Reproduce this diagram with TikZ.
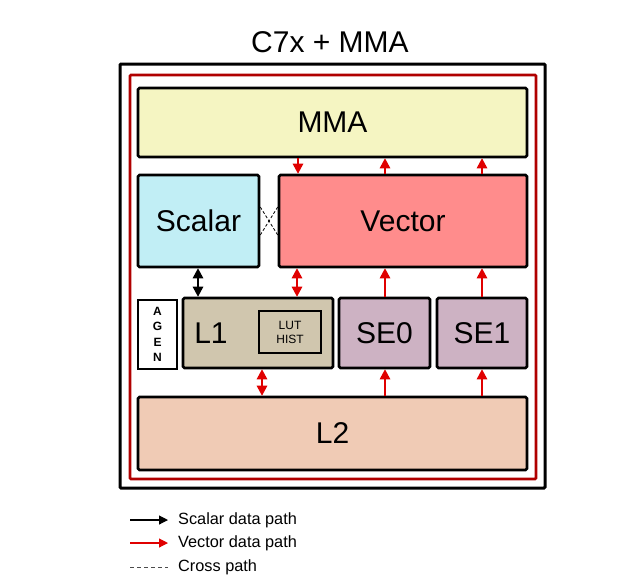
\documentclass[tikz,border=0pt]{standalone}
\usepackage{fontspec}
\setmainfont{Liberation Sans}
\usetikzlibrary{arrows.meta,calc}
\definecolor{cmma}{HTML}{F5F5C2}
\definecolor{cscal}{HTML}{C1EEF5}
\definecolor{cvec}{HTML}{FF8C8C}
\definecolor{cl1}{HTML}{D0C6AE}
\definecolor{cse}{HTML}{CDB2C3}
\definecolor{cl2}{HTML}{F0CBB5}
\definecolor{dred}{HTML}{B00000}
\definecolor{ared}{HTML}{E00000}
\tikzset{
  blk/.style={draw=black,line width=2.6pt,rounded corners=1.5pt,inner sep=0pt,font=\fontsize{30}{32}\selectfont},
  varr/.style={draw=ared,line width=1.3pt,-{Triangle[length=10pt,width=10.5pt]}},
  varrb/.style={draw=ared,line width=1.3pt,{Triangle[length=10pt,width=10.5pt]}-{Triangle[length=10pt,width=10.5pt]}},
  sarrb/.style={draw=black,line width=1.3pt,{Triangle[length=10pt,width=10.5pt]}-{Triangle[length=10pt,width=10.5pt]}},
  sarr/.style={draw=black,line width=1.3pt,-{Triangle[length=9pt,width=9pt]}},
  xpath/.style={draw=black,line width=0.8pt,dash pattern=on 3pt off 2pt},
  legtxt/.style={anchor=west,inner sep=0pt,font=\fontsize{16.3}{18}\selectfont}
}
\begin{document}
\begin{tikzpicture}[x=1pt,y=-1pt]
\useasboundingbox (0,0) rectangle (623,582);
\node (title) at (330,42) {\fontsize{30}{32}\selectfont C7x + MMA};
% frames
\draw[line width=3pt,rounded corners=1pt] (120,64) rectangle (545,488);
\draw[dred,line width=2.6pt,rounded corners=1pt] (130,75) rectangle (536,479);
% blocks
\node[blk,fill=cmma,minimum width=389pt,minimum height=69pt] (mma) at (332.5,122.5) {MMA};
\node[blk,fill=cscal,minimum width=121pt,minimum height=92pt] (scalar) at (198.5,221) {Scalar};
\node[blk,fill=cvec,minimum width=248pt,minimum height=92pt] (vector) at (403,221) {Vector};
\node[draw=black,line width=1.2pt,fill=white,minimum width=39pt,minimum height=69pt,inner sep=0pt,align=center,font=\fontsize{12}{15.5}\selectfont\bfseries] (agen) at (157.5,334.5) {A\\G\\E\\N};
\node[blk,fill=cl1,minimum width=150pt,minimum height=70pt] (l1) at (258,333) {};
\node[font=\fontsize{30}{32}\selectfont] (l1t) at (211,333) {L1};
\node[draw=black,line width=1.3pt,minimum width=62pt,minimum height=42pt,inner sep=0pt,align=center,font=\fontsize{12}{14}\selectfont] (lut) at (290,332) {LUT\\HIST};
\node[blk,fill=cse,minimum width=91pt,minimum height=70pt] (se0) at (384.5,333) {SE0};
\node[blk,fill=cse,minimum width=90pt,minimum height=70pt] (se1) at (482,333) {SE1};
\node[blk,fill=cl2,minimum width=389pt,minimum height=73pt] (l2) at (332.5,433.5) {L2};
% x positions
\coordinate (xa) at (298,0);
\coordinate (xb) at (385,0);
\coordinate (xc) at (482,0);
\coordinate (xs) at (198,0);
\coordinate (xv) at (297,0);
\coordinate (xl) at (262,0);
% MMA <-> Vector
\draw[varr] (mma.south -| xa) -- (vector.north -| xa);
\draw[varr] (vector.north -| xb) -- (mma.south -| xb);
\draw[varr] (vector.north -| xc) -- (mma.south -| xc);
% Scalar <-> L1
\draw[sarrb] (scalar.south -| xs) -- (l1.north -| xs);
% Vector <-> L1
\draw[varrb] (vector.south -| xv) -- (l1.north -| xv);
% SE -> Vector
\draw[varr] (se0.north -| xb) -- (vector.south -| xb);
\draw[varr] (se1.north -| xc) -- (vector.south -| xc);
% L1 <-> L2
\draw[varrb] (l1.south -| xl) -- (l2.north -| xl);
% L2 -> SE
\draw[varr] (l2.north -| xb) -- (se0.south -| xb);
\draw[varr] (l2.north -| xc) -- (se1.south -| xc);
% cross path
\coordinate (cxt) at (0,207);
\coordinate (cxb) at (0,235);
\draw[xpath] (scalar.east |- cxt) -- (vector.west |- cxb);
\draw[xpath] (scalar.east |- cxb) -- (vector.west |- cxt);
% legend
\coordinate (l1a) at (130,520); \coordinate (l1b) at (168,520);
\coordinate (l2a) at (130,543); \coordinate (l2b) at (168,543);
\coordinate (l3a) at (130,567); \coordinate (l3b) at (168,567);
\draw[sarr,line width=1.1pt] (l1a) -- (l1b);
\draw[draw=ared,line width=1.1pt,-{Triangle[length=9pt,width=9pt]}] (l2a) -- (l2b);
\draw[draw=black!70,line width=0.9pt,dash pattern=on 4pt off 3pt] (l3a) -- (l3b);
\node[legtxt] (lt1) at (178,520) {Scalar data path};
\node[legtxt] (lt2) at (178,543) {Vector data path};
\node[legtxt] (lt3) at (178,567) {Cross path};
\end{tikzpicture}
\end{document}
